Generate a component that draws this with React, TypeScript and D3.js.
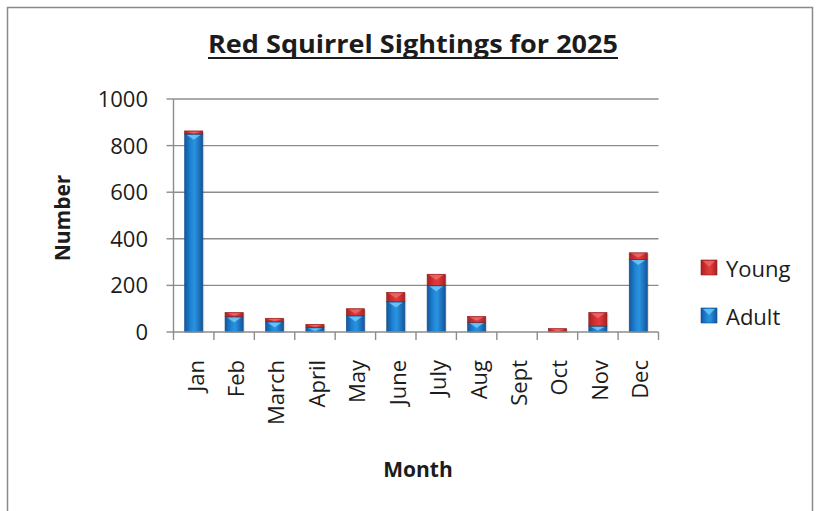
import * as d3 from 'd3';
import { useMemo } from 'react';

const months = ['Jan', 'Feb', 'March', 'April', 'May', 'June', 'July', 'Aug', 'Sept', 'Oct', 'Nov', 'Dec'];
const adult = [850, 66, 44, 20, 70, 130, 200, 42, 0, 0, 26, 312];
const young = [13, 18, 15, 13, 30, 40, 48, 25, 0, 15, 58, 28];
const yTicks = [0, 200, 400, 600, 800, 1000];

const WIDTH = 823;
const HEIGHT = 511;
const PLOT = { left: 173.5, right: 658.5, top: 99, bottom: 332 };
const FONT = "'Open Sans', 'DejaVu Sans', sans-serif";
const TEXT = '#1c1c1c';
const AXIS = '#8c8c8c';

type Row = { month: string; adult: number; young: number };

const rows: Row[] = months.map((m, i) => ({ month: m, adult: adult[i], young: young[i] }));

const Bars = () => {
  const xScale = useMemo(
    () => d3.scaleBand().domain(months).range([PLOT.left, PLOT.right]).padding(0),
    []
  );
  const yScale = useMemo(
    () => d3.scaleLinear().domain([0, 1000]).range([PLOT.bottom, PLOT.top]),
    []
  );
  const series = useMemo(
    () => d3.stack<Row>().keys(['adult', 'young'])(rows),
    []
  );

  const barW = xScale.bandwidth() * 0.45;

  const segments = series.flatMap((s) =>
    s.map((d, i) => {
      const key = s.key;
      const x0 = (xScale(d.data.month) ?? 0) + (xScale.bandwidth() - barW) / 2;
      const yTop = yScale(d[1]);
      const yBot = yScale(d[0]);
      const h = yBot - yTop;
      if (h <= 0.2) return null;
      const grad = key === 'adult' ? 'url(#gBlue)' : 'url(#gRed)';
      const hi = key === 'adult' ? '#7fd0ff' : '#f07070';
      const edge = key === 'adult' ? '#0f4f8f' : '#8f1c1c';
      const triH = Math.min(5, h * 0.6);
      return (
        <g key={`${key}-${i}`}>
          <rect x={x0 + 1.5} y={yTop + 1} width={barW} height={h} fill="#000" opacity={0.12} />
          <rect x={x0} y={yTop} width={barW} height={h} fill={grad} stroke={edge} strokeWidth={0.6} />
          <path
            d={`M${x0 + 2},${yTop + 0.8} L${x0 + barW - 2},${yTop + 0.8} L${x0 + barW / 2},${yTop + 0.8 + triH} Z`}
            fill={hi}
            opacity={0.75}
          />
        </g>
      );
    })
  );

  const gridLines = yTicks.map((t) => (
    <g key={`g-${t}`}>
      {t > 0 && (
        <line x1={PLOT.left} x2={PLOT.right} y1={yScale(t)} y2={yScale(t)} stroke={AXIS} strokeWidth={1.4} />
      )}
      <line x1={PLOT.left - 7} x2={PLOT.left} y1={yScale(t)} y2={yScale(t)} stroke={AXIS} strokeWidth={1.4} />
      <text
        x={148}
        y={yScale(t)}
        dy="0.36em"
        textAnchor="end"
        fontSize={22}
        fontFamily={FONT}
        fill={TEXT}
      >
        {t}
      </text>
    </g>
  ));

  const xTicks = [...months.map((m) => xScale(m) ?? 0), PLOT.right].map((x, i) => (
    <line key={`xt-${i}`} x1={x} x2={x} y1={PLOT.bottom} y2={PLOT.bottom + 8} stroke={AXIS} strokeWidth={1.4} />
  ));

  const xLabels = months.map((m) => {
    const cx = (xScale(m) ?? 0) + xScale.bandwidth() / 2 + 2;
    return (
      <text
        key={`xl-${m}`}
        transform={`translate(${cx},360) rotate(-90)`}
        dy="0.36em"
        textAnchor="end"
        fontSize={22}
        fontFamily={FONT}
        fill={TEXT}
      >
        {m}
      </text>
    );
  });

  return (
    <g>
      {gridLines}
      {segments}
      <line x1={PLOT.left} x2={PLOT.left} y1={PLOT.top} y2={PLOT.bottom} stroke={AXIS} strokeWidth={1.4} />
      <line x1={PLOT.left} x2={PLOT.right} y1={PLOT.bottom} y2={PLOT.bottom} stroke={AXIS} strokeWidth={1.4} />
      {xTicks}
      {xLabels}
    </g>
  );
};

const Legend = () => {
  const items = [
    { label: 'Young', fill: 'url(#gRed)', edge: '#8f1c1c', hi: '#f07070', y: 260 },
    { label: 'Adult', fill: 'url(#gBlue)', edge: '#0f4f8f', hi: '#7fd0ff', y: 308 },
  ];
  return (
    <g>
      {items.map((it) => (
        <g key={it.label}>
          <rect x={701} y={it.y} width={16} height={15} fill={it.fill} stroke={it.edge} strokeWidth={0.6} />
          <path d={`M703,${it.y + 1} L715,${it.y + 1} L709,${it.y + 7} Z`} fill={it.hi} opacity={0.7} />
          <text x={726} y={it.y + 17} fontSize={22} fontFamily={FONT} fill={TEXT}>
            {it.label}
          </text>
        </g>
      ))}
    </g>
  );
};

export default function App() {
  return (
    <div style={{ position: 'fixed', left: 0, top: 0 }}>
      <svg width={WIDTH} height={HEIGHT} style={{ display: 'block', background: '#fff' }}>
        <defs>
          <linearGradient id="gBlue" x1="0" x2="1" y1="0" y2="0">
            <stop offset="0%" stopColor="#13569c" />
            <stop offset="35%" stopColor="#1f86d6" />
            <stop offset="55%" stopColor="#2a93e0" />
            <stop offset="100%" stopColor="#13569c" />
          </linearGradient>
          <linearGradient id="gRed" x1="0" x2="1" y1="0" y2="0">
            <stop offset="0%" stopColor="#a82222" />
            <stop offset="40%" stopColor="#dc3434" />
            <stop offset="60%" stopColor="#e03a3a" />
            <stop offset="100%" stopColor="#a82222" />
          </linearGradient>
        </defs>
        <rect x={7.5} y={7.5} width={805} height={530} fill="#fff" stroke="#8a8a8a" strokeWidth={1.5} />
        <text
          x={208}
          y={53}
          textLength={410}
          lengthAdjust="spacingAndGlyphs"
          fontSize={25}
          fontWeight="bold"
          fontFamily={FONT}
          fill={TEXT}
        >
          Red Squirrel Sightings for 2025
        </text>
        <line x1={208} x2={618} y1={58} y2={58} stroke={TEXT} strokeWidth={2} />
        <text
          transform="translate(62,218) rotate(-90)"
          dy="0.36em"
          textAnchor="middle"
          fontSize={21}
          fontWeight="bold"
          fontFamily={FONT}
          fill={TEXT}
        >
          Number
        </text>
        <text x={418} y={477} textAnchor="middle" fontSize={21} fontWeight="bold" fontFamily={FONT} fill={TEXT}>
          Month
        </text>
        <Bars />
        <Legend />
      </svg>
    </div>
  );
}
